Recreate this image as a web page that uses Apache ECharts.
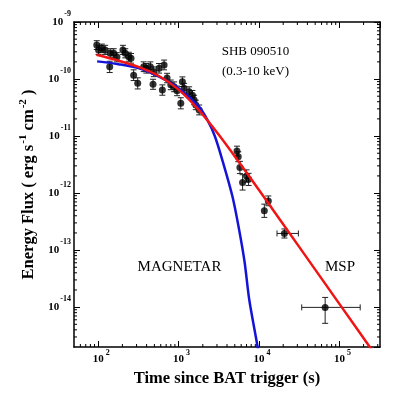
<!DOCTYPE html>
<html><head><meta charset="utf-8">
<script src="https://cdn.jsdelivr.net/npm/echarts@6/dist/echarts.min.js"></script>
<style>html,body{margin:0;padding:0;background:#fff}#c{width:393px;height:399px}</style>
</head><body><div id="c"></div>
<script>
// ---- data ----
const obsTime = [96,101,111,122,139,141,156,171,203,217,240,256,276,310,368,397,445,481,491,571,628,660,719,800,879,957,1065,1115,1171,1352,1486,1560,1637,1803,
  5320,5520,5790,6250,7000,7420,11650,13060,20700,66500];
const obsFlux = [3.95e-10,3.23e-10,3.46e-10,3.23e-10,1.64e-10,2.82e-10,2.82e-10,2.43e-10,3.23e-10,2.82e-10,2.46e-10,2.31e-10,1.17e-10,8.4e-11,1.64e-10,1.54e-10,1.64e-10,8.1e-11,1.34e-10,1.54e-10,6.4e-11,1.76e-10,1.04e-10,7.9e-11,7.3e-11,6.2e-11,3.75e-11,9.0e-11,6.9e-11,6.0e-11,5.2e-11,4.3e-11,3.5e-11,2.86e-11,
  5.45e-12,4.33e-12,2.82e-12,1.54e-12,1.99e-12,1.74e-12,4.9e-13,7.3e-13,1.96e-13,9.9e-15];
const fluxLo = [3.3e-10,2.7e-10,2.9e-10,2.7e-10,1.3e-10,2.35e-10,2.35e-10,2.0e-10,2.7e-10,2.35e-10,2.05e-10,1.9e-10,9.4e-11,6.7e-11,1.35e-10,1.27e-10,1.35e-10,6.6e-11,1.1e-10,1.27e-10,5.2e-11,1.45e-10,8.6e-11,6.5e-11,6.0e-11,5.1e-11,3.0e-11,7.4e-11,5.7e-11,4.95e-11,4.3e-11,3.55e-11,2.9e-11,2.35e-11,
  4.45e-12,3.55e-12,2.2e-12,1.13e-12,1.56e-12,1.36e-12,3.75e-13,6.0e-13,1.63e-13,5.2e-15];
const fluxHi = [4.7e-10,3.9e-10,4.1e-10,3.9e-10,2.05e-10,3.4e-10,3.4e-10,2.9e-10,3.9e-10,3.4e-10,2.95e-10,2.8e-10,1.45e-10,1.05e-10,2.0e-10,1.87e-10,2.0e-10,9.9e-11,1.63e-10,1.87e-10,7.9e-11,2.15e-10,1.26e-10,9.6e-11,8.9e-11,7.5e-11,4.7e-11,1.09e-10,8.4e-11,7.3e-11,6.3e-11,5.2e-11,4.25e-11,3.5e-11,
  6.65e-12,5.3e-12,3.6e-12,2.1e-12,2.55e-12,2.22e-12,6.4e-13,8.9e-13,2.35e-13,1.48e-14];
const timeLo = [null,null,null,null,null,null,null,null,null,null,null,null,null,null,null,null,null,null,null,null,null,null,null,null,null,null,null,null,null,null,null,null,null,null,
  null,null,null,null,null,null,null,null,16750,34000];
const timeHi = [null,null,null,null,null,null,null,null,null,null,null,null,null,null,null,null,null,null,null,null,null,null,null,null,null,null,null,null,null,null,null,null,null,null,
  null,null,null,null,null,null,null,null,30900,181500];

const mspTime = [95,178,316,562,1000,1778,3162,5623,10000,31623,100000,316228];
const mspFlux = [2.66e-10,2.10e-10,1.63e-10,1.14e-10,6.53e-11,2.88e-11,1.05e-11,3.50e-12,1.13e-12,1.14e-13,1.14e-14,1.14e-15];

const magTime = [97,178,316,562,1000,1778,2290,2818,3548,4677,5623,6607,7586,9616,10000];
const magFlux = [2.04e-10,1.82e-10,1.55e-10,1.11e-10,6.92e-11,3.31e-11,1.9e-11,1.0e-11,3.55e-12,8.71e-13,2.40e-13,6.31e-14,1.32e-14,2.0e-15,1.26e-15];

const xMinorTicks = [60,70,80,90,200,300,400,500,600,700,800,900,2000,3000,4000,5000,6000,7000,8000,9000,
  20000,30000,40000,50000,60000,70000,80000,90000,200000,300000];
const yMinorTicks = [];
[-15,-14,-13,-12,-11,-10].forEach(function(p){ for (let m=2;m<=9;m++){ const v=m*Math.pow(10,p); if (v>2.05e-15 && v<1e-9) yMinorTicks.push(v);} });

const X_MIN = 50, X_MAX = 320000, Y_MIN = 2e-15, Y_MAX = 1e-9;
const xLabels = {2:'2',3:'3',4:'4',5:'5'};
const yLabels = {'-9':'-9','-10':'-10','-11':'-11','-12':'-12','-13':'-13','-14':'-14'};

// ---- chart ----
const SERIF = '"Liberation Serif","Times New Roman",serif';
function powLabel(table){
  return function(v){
    const l = Math.log10(v), e = Math.round(l);
    if (Math.abs(l-e) > 1e-6) return '';
    const s = table[String(e)];
    if (s === undefined) return '';
    return '{b|10}{e|' + s + '}';
  };
}
const errData = obsTime.map(function(t,i){ return [t, obsFlux[i], timeLo[i]||t, timeHi[i]||t, fluxLo[i], fluxHi[i]]; });

const chart = echarts.init(document.getElementById('c'), null, {renderer:'canvas'});
const axisCommon = {
  type:'log', logBase:10,
  axisLine:{show:true, onZero:false, lineStyle:{color:'#000', width:1.5}},
  axisTick:{show:true, inside:true, length:6, lineStyle:{color:'#000', width:1}},
  splitLine:{show:false}, minorTick:{show:false}, minorSplitLine:{show:false}
};
chart.setOption({
  animation:false,
  backgroundColor:'#fff',
  grid:{left:74, right:13, top:22, bottom:52, containLabel:false},
  xAxis:[
    Object.assign({}, axisCommon, {min:X_MIN, max:X_MAX, position:'bottom',
      name:'Time since BAT trigger (s)', nameLocation:'middle', nameGap:23,
      nameTextStyle:{fontFamily:SERIF, fontWeight:'bold', fontSize:16.5, color:'#000'},
      axisLabel:{show:true, margin:2, formatter:powLabel(xLabels), showMinLabel:false, showMaxLabel:false,
        rich:{b:{fontFamily:SERIF, fontWeight:'bold', fontSize:11, color:'#000', padding:[0,0,0,6]},
              e:{fontFamily:SERIF, fontWeight:'bold', fontSize:8, color:'#000', padding:[0,0,12,2]}}}}),
    Object.assign({}, axisCommon, {min:X_MIN, max:X_MAX, position:'top', axisLabel:{show:false}})
  ],
  yAxis:[
    Object.assign({}, axisCommon, {min:Y_MIN, max:Y_MAX, position:'left',
      name:'{t|Energy Flux ( erg s}{s|-1}{t| cm}{s|-2}{t| )}', nameLocation:'middle', nameGap:33,
      nameTextStyle:{rich:{t:{fontFamily:SERIF, fontWeight:'bold', fontSize:16.5, color:'#000'},
                           s:{fontFamily:SERIF, fontWeight:'bold', fontSize:11, color:'#000', padding:[0,0,12,1]}}},
      axisLabel:{show:true, margin:3, formatter:powLabel(yLabels), showMinLabel:false,
        rich:{b:{fontFamily:SERIF, fontWeight:'bold', fontSize:11, color:'#000'},
              e:{fontFamily:SERIF, fontWeight:'bold', fontSize:8, color:'#000', padding:[0,0,16,1]}}}}),
    Object.assign({}, axisCommon, {min:Y_MIN, max:Y_MAX, position:'right', axisLabel:{show:false}})
  ],
  series:[
    {type:'custom', xAxisIndex:0, yAxisIndex:0, silent:true, z:1,
      data:xMinorTicks.map(function(v){return [v, 1e-12];}),
      renderItem:function(params, api){
        const cs = params.coordSys; const x = api.coord([api.value(0), api.value(1)])[0];
        const st = {stroke:'#000', lineWidth:1};
        return {type:'group', children:[
          {type:'line', shape:{x1:x, y1:cs.y+cs.height, x2:x, y2:cs.y+cs.height-3}, style:st},
          {type:'line', shape:{x1:x, y1:cs.y, x2:x, y2:cs.y+3}, style:st}]};
      }},
    {type:'custom', xAxisIndex:0, yAxisIndex:0, silent:true, z:1,
      data:yMinorTicks.map(function(v){return [1000, v];}),
      renderItem:function(params, api){
        const cs = params.coordSys; const y = api.coord([api.value(0), api.value(1)])[1];
        const st = {stroke:'#000', lineWidth:1};
        return {type:'group', children:[
          {type:'line', shape:{x1:cs.x, y1:y, x2:cs.x+3, y2:y}, style:st},
          {type:'line', shape:{x1:cs.x+cs.width, y1:y, x2:cs.x+cs.width-3, y2:y}, style:st}]};
      }},
    {type:'custom', xAxisIndex:0, yAxisIndex:0, silent:true, z:2,
      data:errData,
      renderItem:function(params, api){
        const c = api.coord([api.value(0), api.value(1)]);
        const lo = api.coord([api.value(0), api.value(4)]);
        const hi = api.coord([api.value(0), api.value(5)]);
        const l = api.coord([api.value(2), api.value(1)]);
        const r = api.coord([api.value(3), api.value(1)]);
        const st = {stroke:'#222', lineWidth:1};
        const ch = [
          {type:'line', shape:{x1:c[0], y1:lo[1], x2:c[0], y2:hi[1]}, style:st},
          {type:'line', shape:{x1:c[0]-3, y1:lo[1], x2:c[0]+3, y2:lo[1]}, style:st},
          {type:'line', shape:{x1:c[0]-3, y1:hi[1], x2:c[0]+3, y2:hi[1]}, style:st}];
        if (r[0]-l[0] > 1) {
          ch.push({type:'line', shape:{x1:l[0], y1:c[1], x2:r[0], y2:c[1]}, style:st});
          ch.push({type:'line', shape:{x1:l[0], y1:c[1]-3, x2:l[0], y2:c[1]+3}, style:st});
          ch.push({type:'line', shape:{x1:r[0], y1:c[1]-3, x2:r[0], y2:c[1]+3}, style:st});
        }
        return {type:'group', children:ch};
      }},
    {type:'scatter', xAxisIndex:0, yAxisIndex:0, z:3, symbol:'circle', symbolSize:7,
      itemStyle:{color:'#000'}, data:obsTime.map(function(t,i){return [t, obsFlux[i]];})},
    {type:'line', xAxisIndex:0, yAxisIndex:0, z:4, smooth:0.3, showSymbol:false, clip:true,
      lineStyle:{color:'#1414d8', width:2.5}, data:magTime.map(function(t,i){return [t, magFlux[i]];})},
    {type:'line', xAxisIndex:0, yAxisIndex:0, z:5, smooth:0.3, showSymbol:false, clip:true,
      lineStyle:{color:'#f01414', width:2.5}, data:mspTime.map(function(t,i){return [t, mspFlux[i]];})}
  ],
  graphic:[
    {type:'text', x:255.5, y:51.5, silent:true, style:{text:'SHB 090510', fontFamily:SERIF, fontSize:13, fill:'#000', textAlign:'center', textVerticalAlign:'middle'}},
    {type:'text', x:255.5, y:71.5, silent:true, style:{text:'(0.3-10 keV)', fontFamily:SERIF, fontSize:13, fill:'#000', textAlign:'center', textVerticalAlign:'middle'}},
    {type:'text', x:179.5, y:266.7, silent:true, style:{text:'MAGNETAR', fontFamily:SERIF, fontSize:15, fill:'#000', textAlign:'center', textVerticalAlign:'middle'}},
    {type:'text', x:340, y:266.7, silent:true, style:{text:'MSP', fontFamily:SERIF, fontSize:15, fill:'#000', textAlign:'center', textVerticalAlign:'middle'}}
  ]
});
</script>
</body></html>
